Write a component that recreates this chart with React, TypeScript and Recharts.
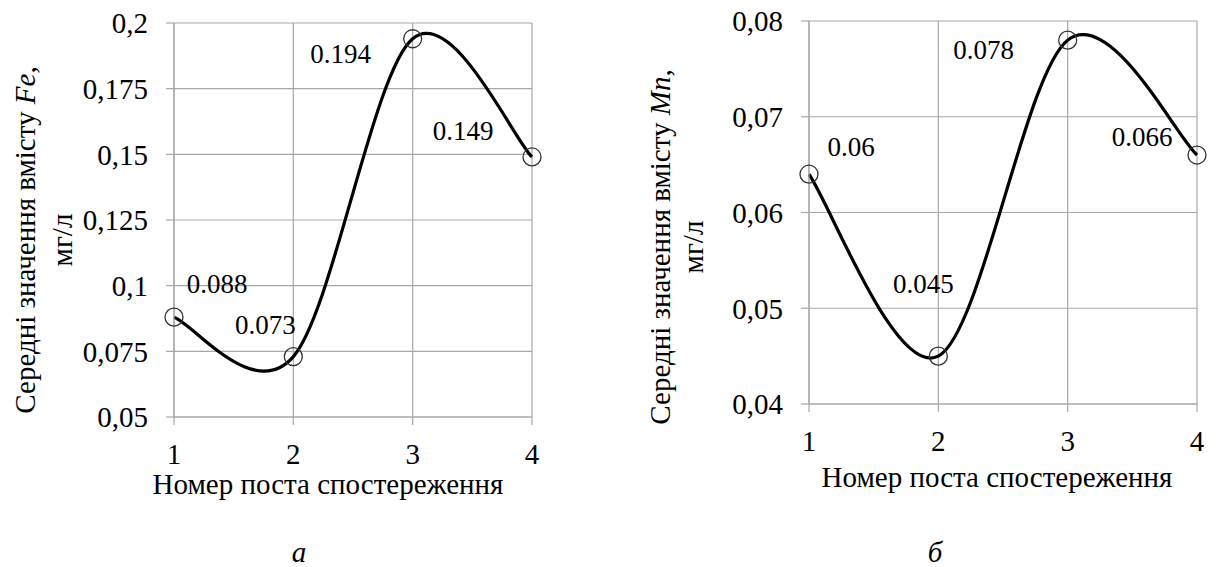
import React from "react";
import {
  CartesianGrid,
  Label,
  LabelList,
  Line,
  LineChart,
  XAxis,
  YAxis,
} from "recharts";

// data
const posts = [1, 2, 3, 4];

const feValues = [0.088, 0.073, 0.194, 0.149];
const feLabels = ["0.088", "0.073", "0.194", "0.149"];
const feTicks = [0.05, 0.075, 0.1, 0.125, 0.15, 0.175, 0.2];

const mnValues = [0.064, 0.045, 0.078, 0.066];
const mnLabels = ["0.06", "0.045", "0.078", "0.066"];
const mnTicks = [0.04, 0.05, 0.06, 0.07, 0.08];

const xTitle = "Номер поста спостереження";

const FONT = "Liberation Serif, Tinos, Times New Roman, DejaVu Serif, serif";
const GRID = "#a8a8a8";

// Excel-style smoothed line: cubic bezier through the points, tangents (next - prev) / 6
function excelSmooth(context: any) {
  let pts: number[][] = [];
  return {
    areaStart() {},
    areaEnd() {},
    lineStart() {
      pts = [];
    },
    lineEnd() {
      if (!pts.length) return;
      context.moveTo(pts[0][0], pts[0][1]);
      for (let i = 0; i < pts.length - 1; i++) {
        const p0 = pts[Math.max(i - 1, 0)];
        const p1 = pts[i];
        const p2 = pts[i + 1];
        const p3 = pts[Math.min(i + 2, pts.length - 1)];
        context.bezierCurveTo(
          p1[0] + (p2[0] - p0[0]) / 6,
          p1[1] + (p2[1] - p0[1]) / 6,
          p2[0] - (p3[0] - p1[0]) / 6,
          p2[1] - (p3[1] - p1[1]) / 6,
          p2[0],
          p2[1],
        );
      }
    },
    point(x: number, y: number) {
      pts.push([+x, +y]);
    },
  };
}

const commaFormat = (v: number) => String(v).replace(".", ",");

const textStyle = { fontFamily: FONT };

interface PanelProps {
  values: number[];
  labels: string[];
  ticks: number[];
  element: string;
  letter: string;
  left: number;
  width: number;
  yAxisWidth: number;
  top: number;
  right: number;
  xAxisHeight: number;
  labelOffsets: number[][];
  yTitle: { x1: number; x2: number; cy: number };
  xTitle: { cx: number; y: number; letterX: number; letterY: number };
}

function Panel(p: PanelProps) {
  const data = posts.map((post, i) => ({
    post,
    value: p.values[i],
    label: p.labels[i],
  }));

  const renderYTitle = () => (
    <g style={textStyle}>
      <text
        x={p.yTitle.x1}
        y={p.yTitle.cy}
        transform={`rotate(-90 ${p.yTitle.x1} ${p.yTitle.cy})`}
        textAnchor="middle"
        fontSize={29}
        style={textStyle}
        fill="#000"
      >
        Середні значення вмісту{" "}
        <tspan fontStyle="italic">{p.element}</tspan>,
      </text>
      <text
        x={p.yTitle.x2}
        y={p.yTitle.cy}
        transform={`rotate(-90 ${p.yTitle.x2} ${p.yTitle.cy})`}
        textAnchor="middle"
        fontSize={29}
        style={textStyle}
        fill="#000"
      >
        мг/л
      </text>
    </g>
  );

  const renderXTitle = () => (
    <g style={textStyle}>
      <text
        x={p.xTitle.cx}
        y={p.xTitle.y}
        textAnchor="middle"
        fontSize={29}
        style={textStyle}
        fill="#000"
      >
        {xTitle}
      </text>
      <text
        x={p.xTitle.letterX}
        y={p.xTitle.letterY}
        textAnchor="middle"
        fontSize={29}
        fontStyle="italic"
        style={textStyle}
        fill="#000"
      >
        {p.letter}
      </text>
    </g>
  );

  const renderPointLabel = (props: any) => {
    const { x, y, index } = props;
    const [dx, dy] = p.labelOffsets[index];
    return (
      <text
        x={x + dx}
        y={y + dy}
        textAnchor="middle"
        dominantBaseline="central"
        fontSize={27}
        style={textStyle}
        fill="#000"
      >
        {data[index].label}
      </text>
    );
  };

  return (
    <div style={{ position: "absolute", left: p.left, top: 0 }}>
      <LineChart
        width={p.width}
        height={567}
        data={data}
        margin={{ top: p.top, right: p.right, left: 0, bottom: 0 }}
        style={textStyle}
      >
        <CartesianGrid stroke={GRID} strokeWidth={1.2} />
        <XAxis
          dataKey="post"
          type="number"
          domain={[1, 4]}
          ticks={posts}
          interval={0}
          height={p.xAxisHeight}
          tickSize={8}
          tickMargin={18}
          axisLine={{ stroke: GRID, strokeWidth: 1.2 }}
          tickLine={{ stroke: GRID, strokeWidth: 1.2 }}
          tick={{ fill: "#000", fontSize: 29, style: textStyle }}
        >
          <Label content={renderXTitle} />
        </XAxis>
        <YAxis
          type="number"
          domain={[p.ticks[0], p.ticks[p.ticks.length - 1]]}
          ticks={p.ticks}
          interval={0}
          width={p.yAxisWidth}
          tickSize={8}
          tickMargin={18}
          tickFormatter={commaFormat}
          axisLine={{ stroke: GRID, strokeWidth: 1.2 }}
          tickLine={{ stroke: GRID, strokeWidth: 1.2 }}
          tick={{ fill: "#000", fontSize: 29, style: textStyle }}
        >
          <Label content={renderYTitle} />
        </YAxis>
        <Line
          dataKey="value"
          type={excelSmooth as any}
          stroke="#000"
          strokeWidth={3.2}
          dot={{ r: 9, fill: "none", stroke: "#333", strokeWidth: 1.3 }}
          activeDot={false}
          isAnimationActive={false}
        >
          <LabelList dataKey="label" content={renderPointLabel} />
        </Line>
      </LineChart>
    </div>
  );
}

export default function App() {
  return (
    <div
      style={{
        position: "absolute",
        left: 0,
        top: 0,
        width: 1217,
        height: 567,
        background: "#fff",
        fontFamily: FONT,
      }}
    >
      <Panel
        values={feValues}
        labels={feLabels}
        ticks={feTicks}
        element="Fe"
        letter="а"
        left={0}
        width={600}
        yAxisWidth={174}
        top={23}
        right={68}
        xAxisHeight={150}
        labelOffsets={[
          [43, -33],
          [-28, -32],
          [-72, 15],
          [-69, -26],
        ]}
        yTitle={{ x1: 35, x2: 72, cy: 240 }}
        xTitle={{ cx: 328, y: 494, letterX: 299, letterY: 562 }}
      />
      <Panel
        values={mnValues}
        labels={mnLabels}
        ticks={mnTicks}
        element="Mn"
        letter="б"
        left={600}
        width={617}
        yAxisWidth={209}
        top={21}
        right={20}
        xAxisHeight={163}
        labelOffsets={[
          [42, -27],
          [-15, -72],
          [-84, 10],
          [-55, -18],
        ]}
        yTitle={{ x1: 70, x2: 103, cy: 247 }}
        xTitle={{ cx: 397, y: 487, letterX: 335, letterY: 562 }}
      />
    </div>
  );
}
